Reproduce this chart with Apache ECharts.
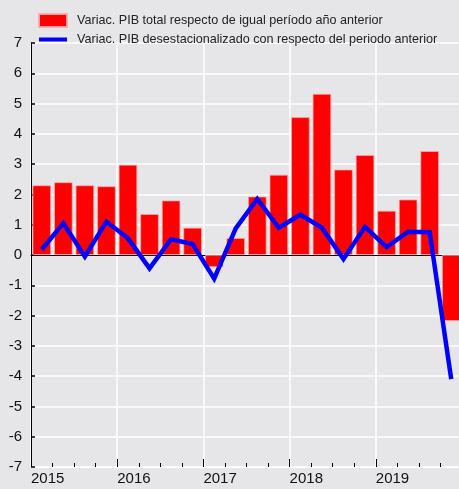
<!DOCTYPE html>
<html>
<head>
<meta charset="utf-8">
<script src="https://cdn.jsdelivr.net/npm/echarts@6/dist/echarts.min.js"></script>
<style>
  html, body { margin: 0; padding: 0; background: #e6e6e8; }
  #chart { width: 459px; height: 489px; }
</style>
</head>
<body>
<div id="chart"></div>
<script>
// trimestres 2015T1 - 2019T4
var quarters = ['2015T1','2015T2','2015T3','2015T4','2016T1','2016T2','2016T3','2016T4',
    '2017T1','2017T2','2017T3','2017T4','2018T1','2018T2','2018T3','2018T4',
    '2019T1','2019T2','2019T3','2019T4'];
var years = ['2015', '2016', '2017', '2018', '2019'];

// variacion respecto de igual periodo del año anterior (barras)
var pibTotal = [2.3, 2.4, 2.3, 2.27, 2.98, 1.35, 1.8, 0.9,
    -0.4, 0.56, 1.93, 2.65, 4.55, 5.32, 2.82, 3.3,
    1.46, 1.83, 3.43, -2.18];
// variacion desestacionalizada respecto del periodo anterior (linea)
var pibDesest = [0.18, 1.05, -0.05, 1.1, 0.55, -0.44, 0.52, 0.36,
    -0.78, 0.88, 1.85, 0.9, 1.33, 0.9, -0.13, 0.93,
    0.26, 0.77, 0.75, -4.1];

var nameBar = 'Variac. PIB total respecto de igual período año anterior';
var nameLine = 'Variac. PIB desestacionalizado con respecto del periodo anterior';

var font = 'Liberation Sans, Arial, Helvetica, sans-serif';

var chart = echarts.init(document.getElementById('chart'));

var option = {
    backgroundColor: '#e6e6e8',
    animation: false,
    textStyle: { fontFamily: font },
    legend: {
        orient: 'vertical',
        left: 33,
        top: 8,
        itemWidth: 28,
        itemHeight: 13,
        itemGap: 5,
        textStyle: { fontSize: 12.6, color: '#222', fontFamily: font, padding: [0, 0, 0, 5] },
        data: [
            { name: nameBar, icon: 'rect' },
            // thin bar icon: the zero-length moves keep the full 28x13 box
            { name: nameLine, icon: 'path://M0,0L0,0M0,4.5h28v4h-28zM28,13L28,13' }
        ]
    },
    // plot runs a few px past the right edge, like the original
    grid: { left: 31, top: 43, right: -3, bottom: 22, containLabel: false, outerBoundsMode: 'none' },
    xAxis: [
        {
            type: 'category',
            data: quarters,
            position: 'bottom',
            axisLine: { show: true, onZero: true, lineStyle: { color: '#000', width: 1 } },
            axisTick: { show: false },
            axisLabel: { show: false },
            splitLine: { show: false }
        },
        {
            type: 'value',
            min: 0,
            max: 20,
            interval: 4,
            position: 'bottom',
            axisLine: { show: true, onZero: false, lineStyle: { color: '#fff', width: 1 } },
            axisTick: { show: true, inside: true, length: 8, lineStyle: { color: '#000', width: 1 } },
            minorTick: { show: true, splitNumber: 4, length: 4, lineStyle: { color: '#000', width: 1 } },
            splitLine: { show: true, lineStyle: { color: '#fff', width: 1.5 } },
            minorSplitLine: { show: false },
            axisLabel: {
                align: 'left',
                margin: 4,
                fontSize: 15,
                color: '#111',
                fontFamily: font,
                formatter: function (v) { return years[v / 4] || ''; }
            }
        }
    ],
    yAxis: {
        type: 'value',
        min: -7,
        max: 7,
        interval: 1,
        axisLine: { show: true, onZero: false, lineStyle: { color: '#000', width: 1 } },
        axisTick: { show: true, inside: true, length: 4, lineStyle: { color: '#000', width: 1.5 } },
        splitLine: { show: true, lineStyle: { color: '#fff', width: 1.5 } },
        axisLabel: { margin: 9, fontSize: 15, color: '#111', fontFamily: font }
    },
    series: [
        {
            name: nameBar,
            type: 'bar',
            xAxisIndex: 0,
            data: pibTotal,
            barWidth: 18.5,
            itemStyle: { color: '#ff0000', borderColor: 'rgba(255,170,170,0.9)', borderWidth: 0.8 },
            z: 2
        },
        {
            name: nameLine,
            type: 'line',
            xAxisIndex: 0,
            data: pibDesest,
            symbol: 'none',
            lineStyle: { color: '#0000ff', width: 4.5, join: 'miter' },
            itemStyle: { color: '#0000ff' },
            z: 3
        }
    ]
};

chart.setOption(option);
</script>
</body>
</html>
